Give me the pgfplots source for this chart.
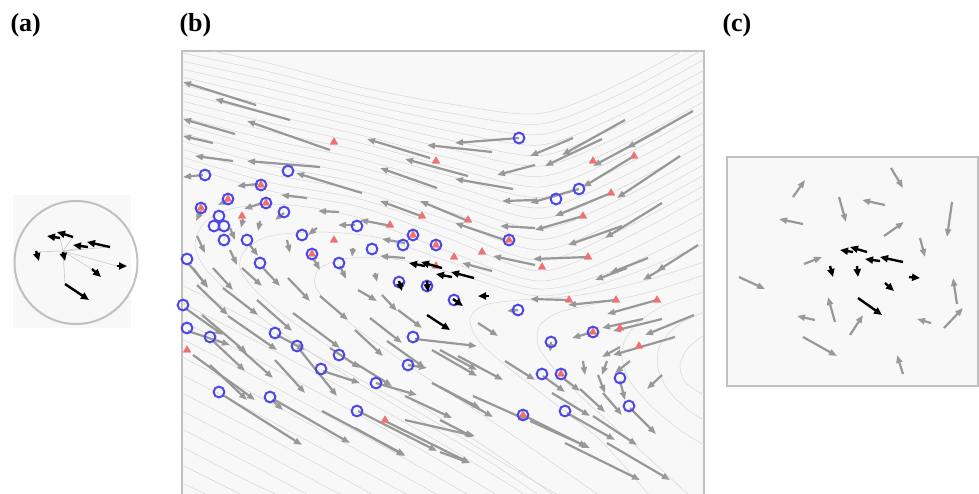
\documentclass[border=0pt]{standalone}
\usepackage{fontspec}
\setmainfont{Liberation Serif}
\usepackage{pgfplots}
\pgfplotsset{compat=1.18}
\usetikzlibrary{arrows.meta}
\definecolor{frm}{RGB}{192,192,192}
\definecolor{bgp}{RGB}{248,248,248}
\definecolor{garr}{RGB}{152,152,152}
\definecolor{sline}{RGB}{214,214,214}
\definecolor{bcir}{RGB}{78,72,232}
\definecolor{rtri}{RGB}{240,112,112}
\definecolor{hub}{RGB}{205,205,205}
\pgfplotsset{
 panel/.style={x=1pt,y=1pt,y dir=reverse,anchor=north west,xtick=\empty,ytick=\empty,
   axis line style={draw=frm,line width=2pt},axis background/.style={fill=bgp},clip mode=individual},
 qv/.style={quiver={u={\thisrow{hx}-\thisrow{x}},v={\thisrow{hy}-\thisrow{y}}}},
 garrow/.style={qv,draw=garr,line width=2.2pt,-{Triangle[length=8pt,width=6pt]}},
 barrow/.style={qv,draw=black,line width=2.4pt,-{Triangle[length=8pt,width=7pt]}},
 sl/.style={draw=sline,line width=0.5pt,smooth,no marks},
 bc/.style={only marks,mark=o,mark size=5.4pt,mark options={draw=bcir,line width=2pt}},
 rt/.style={only marks,mark=triangle*,mark size=4.5pt,mark options={fill=rtri,draw=rtri,line width=0.2pt}},
}
\begin{document}
\begin{tikzpicture}
\useasboundingbox (0,0) rectangle (979pt,-493pt);
\node[anchor=base west,font=\bfseries\fontsize{26}{30}\selectfont] at (7pt,-31pt) {(a)};
\node[anchor=base west,font=\bfseries\fontsize{26}{30}\selectfont] at (176pt,-31pt) {(b)};
\node[anchor=base west,font=\bfseries\fontsize{26}{30}\selectfont] at (719pt,-31pt) {(c)};

% ---------------- (a)
\begin{axis}[x=1pt,y=1pt,y dir=reverse,anchor=north west,at={(0pt,-180pt)},
  xmin=0,xmax=160,ymin=180,ymax=340,hide axis,clip=false]
\fill[bgp] (axis cs:13,195) rectangle (axis cs:131,328);
\draw[frm,line width=2pt] (axis cs:76,262.5) circle[radius=61.5pt];
\addplot[qv,draw=hub,line width=0.7pt] table[row sep=\\]{x y hx hy\\
63 251 60 238\\ 63 251 73 237\\ 63 251 88 247\\ 63 251 110 247\\ 63 251 36 252\\
63 251 117 266\\ 63 251 93 270\\ 63 251 65 284\\};
\addplot[barrow] table[row sep=\\]{x y hx hy\\
60 238 47 236\\ 73 237 57 232\\ 88 247 73 245\\ 110 247 87 242\\
36 251 39 261\\ 63 252 65 261\\ 117 266 127 266\\ 92 269 101 277\\ 65 284 89 300\\};
\end{axis}

% ---------------- (b)
\begin{axis}[panel,at={(182pt,-51pt)},xmin=182,xmax=704,ymin=51,ymax=496]
\addplot[sl] coordinates {(182,45)(270,63.5)(360,87)(450,104)(540,113.5)(620,83.5)(704,38.5)};
\addplot[sl] coordinates {(182,53)(270,72)(360,95)(450,113)(540,124)(620,94)(704,49)};
\addplot[sl] coordinates {(182,61)(270,80.5)(360,103)(450,122)(540,134.5)(620,104.5)(704,59.5)};
\addplot[sl] coordinates {(182,69)(270,89)(360,111)(450,131)(540,145)(620,115)(704,70)};
\addplot[sl] coordinates {(182,77)(270,97.5)(360,119)(450,140)(540,155.5)(620,125.5)(704,80.5)};
\addplot[sl] coordinates {(182,85)(270,106)(360,127)(450,149)(540,166)(620,136)(704,91)};
\addplot[sl] coordinates {(182,93)(270,114.5)(360,135)(450,158)(540,176.5)(620,146.5)(704,101.5)};
\addplot[sl] coordinates {(182,101)(270,123)(360,143)(450,167)(540,187)(620,157)(704,112)};
\addplot[sl] coordinates {(182,109)(270,131.5)(360,151)(450,176)(540,197.5)(620,167.5)(704,122.5)};
\addplot[sl] coordinates {(182,117)(270,140)(360,159)(450,185)(540,208)(620,178)(704,133)};
\addplot[sl] coordinates {(182,125)(270,148.5)(360,167)(450,194)(540,218.5)(620,188.5)(704,143.5)};
\addplot[sl] coordinates {(182,133)(270,157)(360,175)(450,203)(540,229)(620,199)(704,154)};
\addplot[sl] coordinates {(182,141)(270,165.5)(360,183)(450,212)(540,239.5)(620,209.5)(704,164.5)};
\addplot[sl] coordinates {(182,149)(270,174)(360,191)(450,221)(540,250)(620,220)(704,175)};
\addplot[sl] coordinates {(182,157)(270,182.5)(360,199)(450,230)(540,260.5)(620,230.5)(704,185.5)};
\addplot[sl] coordinates {(182,165)(270,191)(360,207)(450,239)(540,271)(620,241)(704,196)};
\addplot[sl] coordinates {(704,212)(620,255)(540,281)(450,252)(360,218)(290,205)(235,208)(205,222)(195,245)(205,268)(235,298)(285,335)(350,378)(420,420)(490,462)(540,496)};
\addplot[sl] coordinates {(704,228)(620,268)(540,289)(450,262)(380,238)(320,232)(270,236)(245,250)(240,268)(255,290)(290,320)(345,357)(415,402)(490,450)(555,496)};
\addplot[sl] coordinates {(704,244)(620,278)(540,296)(460,275)(400,260)(350,258)(320,268)(315,285)(330,305)(365,335)(430,380)(505,430)(570,475)(600,496)};
\addplot[sl] coordinates {(704,262)(640,282)(580,295)(520,300)(485,305)(470,318)(478,340)(505,365)(550,400)(600,440)(650,496)};
\addplot[sl] coordinates {(704,275)(650,292)(600,303)(560,312)(540,325)(538,345)(555,370)(590,405)(640,450)(690,496)};
\addplot[sl] coordinates {(704,292)(665,305)(635,325)(622,350)(628,378)(650,405)(680,430)(704,445)};
\addplot[sl] coordinates {(704,312)(678,325)(660,345)(658,368)(668,390)(688,410)(704,420)};
\addplot[sl] coordinates {(704,335)(688,348)(680,365)(685,382)(704,395)};
\addplot[sl] coordinates {(182,285)(250,320)(330,363)(420,413)(510,467)(560,496)};
\addplot[sl] coordinates {(182,303)(250,338)(330,381)(420,431)(510,485)(525,496)};
\addplot[sl] coordinates {(182,321)(250,356)(330,399)(420,449)(510,503)};
\addplot[sl] coordinates {(182,339)(250,374)(330,417)(420,467)(470,496)};
\addplot[sl] coordinates {(182,357)(250,392)(330,435)(420,485)(440,496)};
\addplot[sl] coordinates {(182,375)(250,410)(330,453)(410,496)};
\addplot[sl] coordinates {(182,393)(250,428)(330,471)(375,496)};
\addplot[sl] coordinates {(182,411)(250,446)(330,489)(345,496)};
\addplot[sl] coordinates {(182,429)(250,464)(310,496)};
\addplot[sl] coordinates {(182,447)(250,482)(280,496)};
\addplot[sl] coordinates {(182,465)(240,494)};
\addplot[sl] coordinates {(182,483)(210,496)};
\addplot[garrow] table[row sep=\\]{x y hx hy\\
256 105 183 82\\ 290 120 215 99\\ 235 134 183 119\\ 330 150 247 121\\ 213 143 183 136\\
233 161 195 156\\ 320 167 247 161\\ 362 193 296 173\\ 203 175 183 177\\ 258 184 237 186\\
307 198 281 195\\ 339 212 318 211\\ 355 225 338 225\\ 492 152 427 145\\ 519 138 455 143\\
430 158 367 139\\ 468 176 405 159\\ 437 188 380 168\\ 513 189 455 179\\ 535 165 497 175\\
421 216 380 201\\ 468 221 420 201\\ 535 200 502 201\\ 535 228 500 226\\ 392 226 360 220\\
505 240 455 223\\ 405 243 382 239\\ 405 258 380 256\\ 535 265 493 256\\ 492 271 462 263\\
625 120 562 155\\ 573 138 530 156\\ 602 139 545 166\\ 693 111 627 148\\ 660 130 593 166\\
634 156 583 187\\ 579 189 530 203\\ 680 156 617 198\\ 611 193 555 216\\ 583 216 535 230\\
662 203 605 238\\ 622 226 568 245\\ 588 257 533 259\\ 648 258 610 273\\ 698 245 657 271\\
627 268 595 280\\ 663 268 643 280\\ 569 300 530 299\\ 616 300 568 305\\ 657 300 607 314\\
643 319 602 328\\ 662 319 613 331\\ 694 315 645 335\\ 593 332 572 338\\ 675 337 613 355\\
620 347 602 357\\ 551 342 550 352\\ 583 361 585 375\\ 607 361 602 375\\ 630 361 615 373\\
662 375 647 389\\ 543 376 565 392\\ 563 378 580 391\\ 598 375 605 393\\ 620 381 625 400\\
580 389 605 412\\ 603 393 622 415\\ 630 408 656 434\\ 552 393 590 416\\ 567 413 615 440\\
593 416 637 445\\ 530 421 590 448\\ 565 443 640 480\\ 607 443 670 480\\
478 323 498 336\\ 415 339 477 346\\ 505 361 535 380\\ 432 350 477 376\\ 458 356 503 380\\
408 365 427 368\\ 432 383 480 408\\ 355 363 392 386\\ 376 383 417 395\\ 405 396 452 418\\
473 396 527 420\\ 358 411 437 451\\ 385 421 470 463\\ 405 420 475 436\\ 355 428 405 456\\
358 290 377 301\\ 382 295 397 311\\ 398 310 422 328\\ 370 318 402 343\\ 355 330 383 356\\
387 341 425 368\\ 523 415 587 447\\ 440 420 473 437\\ 440 452 470 463\\ 440 350 477 370\\
440 387 493 417\\ 518 310 507 311\\ 340 266 346 279\\
193 268 208 288\\ 213 268 233 290\\ 242 268 262 286\\ 263 268 280 286\\ 288 278 310 301\\
320 296 348 320\\ 197 285 228 315\\ 223 288 258 315\\ 257 300 292 331\\ 185 308 223 335\\
202 315 247 353\\ 228 316 277 350\\ 293 313 340 348\\ 188 331 230 345\\ 212 340 245 371\\
277 335 305 350\\ 237 346 273 378\\ 193 355 255 400\\ 210 365 247 400\\ 300 350 337 396\\
275 360 305 393\\ 223 395 302 445\\ 272 400 283 410\\ 275 400 350 443\\ 323 371 360 383\\
330 348 360 368\\ 322 411 405 455\\ 188 263 208 287\\
228 200 218 205\\ 262 203 244 209\\ 201 211 196 221\\ 284 213 275 220\\ 243 219 241 228\\
260 221 258 231\\ 230 228 235 240\\ 197 236 205 253\\ 287 240 290 253\\ 250 245 258 256\\
313 258 320 270\\ 230 250 237 265\\ 353 248 352 257\\ 317 228 308 235\\ 375 273 377 282\\};
\addplot[rt] coordinates {(334,142)(242,216)(334,240)(436,161)(422,216)(390,225)(468,220)
(482,252)(454,257)(436,266)(593,161)(634,156)(611,193)(583,216)(588,257)(542,267)
(569,300)(616,300)(657,300)(620,328)(639,346)(187,350)(385,420)
(261,185)(228,199)(201,208)(266,203)(312,254)(413,235)(436,245)(509,240)(593,332)(561,374)(523,415)};
\addplot[bc] coordinates {(205,175)(288,171)(261,185)(228,199)(201,208)(266,203)(219,216)
(214,226)(224,226)(224,240)(247,240)(284,212)(302,235)(312,254)(187,259)(260,263)(339,263)
(357,226)(519,138)(372,249)(403,245)(413,235)(436,245)(509,240)(579,189)(556,199)
(183,305)(187,328)(210,337)(275,333)(297,346)(339,355)(321,369)(219,392)(270,397)(357,411)
(399,282)(427,286)(454,300)(518,310)(413,337)(408,365)(376,383)(523,415)
(593,332)(551,342)(542,374)(561,374)(620,378)(629,406)(565,411)};
\addplot[barrow] table[row sep=\\]{x y hx hy\\
425 266 409 263\\ 442 268 421 262\\ 452 277 436 274\\ 474 278 451 272\\
399 281 402 291\\ 427 281 428 292\\ 453 299 463 306\\ 489 296 478 296\\ 427 315 450 330\\};
\end{axis}

% ---------------- (c)
\begin{axis}[panel,at={(727pt,-157pt)},xmin=727,xmax=978,ymin=157,ymax=386]
\addplot[garrow] table[row sep=\\]{x y hx hy\\
793 197 805 180\\ 891 168 903 188\\ 839 197 846 222\\ 885 205 862 200\\ 803 224 779 219\\
952 202 947 237\\ 884 236 904 222\\ 920 238 925 257\\ 804 264 822 257\\ 739 277 765 289\\
957 304 953 278\\ 835 322 828 297\\ 815 320 797 316\\ 850 335 863 315\\ 931 323 917 319\\
944 328 963 308\\ 803 337 837 356\\ 903 374 897 355\\};
\addplot[barrow] table[row sep=\\]{x y hx hy\\
853 252 840 250\\ 867 252 850 247\\ 880 261 865 259\\ 903 262 880 257\\
830 266 833 277\\ 857 266 858 277\\ 909 277 920 278\\ 885 283 894 291\\ 858 298 882 315\\};
\end{axis}
\end{tikzpicture}
\end{document}
